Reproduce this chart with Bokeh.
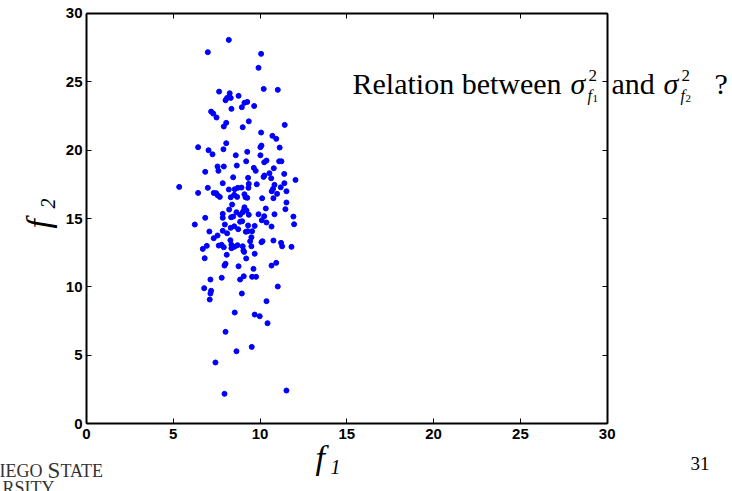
from bokeh.plotting import figure
from bokeh.models import Range1d, LinearAxis, FixedTicker, Label
from bokeh.embed import file_html
from bokeh.resources import INLINE

# ---- data ----
f1 = [8.20,6.99,10.06,9.91,7.64,10.21,11.02,8.25,8.10,8.31,
      8.01,8.76,9.10,9.26,9.66,8.35,8.95,7.18,7.30,7.49,
      8.05,7.91,9.35,9.00,11.42,10.06,10.71,10.93,6.43,8.05,
      7.03,7.26,7.89,8.60,9.26,10.02,10.08,10.02,11.13,9.20,
      10.24,10.37,11.10,11.23,6.84,7.55,7.91,7.60,8.66,9.64,
      9.75,10.79,10.54,10.25,10.20,11.39,8.45,9.31,10.64,12.04,
      5.34,6.43,6.99,7.85,8.20,8.54,8.72,8.93,9.35,9.33,
      9.81,10.83,10.75,10.67,11.40,11.19,11.52,7.33,7.47,7.55,
      7.68,8.31,8.51,8.68,9.10,9.16,9.26,10.12,10.98,10.77,
      11.52,8.39,8.22,9.10,9.08,9.22,10.33,11.46,6.84,6.24,
      7.85,7.85,8.33,8.45,8.64,8.85,9.00,9.35,9.91,10.10,
      10.24,10.37,10.83,10.66,11.92,11.96,7.97,8.31,8.51,8.74,
      8.85,8.97,9.31,9.29,9.18,9.69,9.54,7.08,7.55,7.33,
      7.85,8.10,8.29,9.50,9.43,10.14,10.08,10.77,11.21,11.27,
      11.81,6.93,6.70,7.62,7.78,7.91,8.35,8.35,8.52,8.70,
      9.00,9.04,9.08,9.50,8.08,9.69,6.81,9.20,8.01,7.95,
      8.76,9.62,10.66,10.93,7.14,7.79,8.85,9.06,9.54,9.77,
      6.78,7.18,7.14,7.10,8.95,11.02,10.37,8.54,9.69,9.98,
      10.43,8.01,9.52,8.64,7.43,7.95,11.52]
f2 = [28.05,27.15,27.03,26.01,24.27,24.47,24.40,24.15,23.81,23.81,
      23.64,23.96,23.45,23.52,23.22,23.01,23.13,22.81,22.67,22.38,
      21.99,21.72,22.10,21.67,21.84,21.28,21.04,20.82,20.21,20.50,
      19.99,19.69,20.06,19.62,19.87,20.21,20.33,19.62,20.18,19.18,
      19.11,19.23,19.18,19.18,18.41,18.80,18.80,18.48,18.87,18.70,
      18.48,18.67,18.31,18.14,18.04,18.26,18.01,17.97,17.94,17.82,
      17.31,16.87,17.24,17.58,17.12,17.14,17.24,17.26,17.53,17.24,
      17.50,17.46,17.17,16.99,17.58,17.28,16.99,16.87,16.85,16.70,
      16.58,16.55,16.73,16.58,16.77,16.55,16.51,16.48,16.80,16.48,
      16.17,16.02,15.65,15.82,15.63,15.58,15.73,15.68,15.05,14.56,
      15.34,15.05,15.09,15.14,15.46,15.27,15.46,15.27,15.31,14.87,
      15.17,14.71,15.31,14.41,15.14,14.58,14.56,14.32,14.43,14.22,
      14.76,14.80,14.49,14.07,14.03,14.46,14.07,14.05,13.76,13.56,
      14.10,13.92,13.41,13.63,13.34,13.34,13.27,13.39,13.22,12.97,
      12.93,13.00,12.78,13.02,13.08,12.90,13.08,12.83,12.93,13.05,
      12.97,12.66,12.56,12.97,12.35,12.42,12.10,12.08,11.69,11.56,
      11.51,11.32,11.56,11.76,10.54,10.67,10.54,10.78,10.74,10.74,
      9.91,9.72,9.52,9.08,9.52,10.03,8.96,8.13,7.98,7.86,
      7.35,6.72,5.62,5.30,4.48,2.19,2.43]
ticks = [0, 5, 10, 15, 20, 25, 30]
lo, hi = 0, 30

# ---- layout: plotting box placed inside a frame that fills the figure ----
W, H = 732, 491
box_l, box_r, box_t, box_b = 86.0, 606.7, 12.7, 423.3
sx = (hi - lo) / (box_r - box_l)
sy = (hi - lo) / (box_b - box_t)
x_range = Range1d(lo - box_l * sx, lo + (W - box_l) * sx)
y_range = Range1d(lo - (H - box_b) * sy, lo + box_b * sy)

p = figure(width=W, height=H, x_range=x_range, y_range=y_range,
           output_backend="svg", toolbar_location=None, min_border=0)
p.grid.visible = False
p.outline_line_color = None
p.background_fill_color = "white"
p.border_fill_color = "white"
p.xaxis.visible = False
p.yaxis.visible = False

empty = {t: "" for t in ticks}

def make_axis(side, loc, labels):
    a = LinearAxis(ticker=FixedTicker(ticks=ticks), fixed_location=loc, bounds=(lo, hi),
                   axis_line_width=2, axis_line_color="black",
                   major_tick_in=5, major_tick_out=0, major_tick_line_width=1,
                   minor_tick_line_color=None,
                   major_label_text_font="Liberation Sans", major_label_text_font_style="bold",
                   major_label_text_font_size="15px", major_label_text_color="black")
    if not labels:
        a.major_label_overrides = empty
    p.add_layout(a, side)
    return a

ax_b = make_axis("below", lo, True)
ax_b.major_label_standoff = 5
ax_l = make_axis("left", lo, True)
ax_l.major_label_standoff = 4
make_axis("above", hi, False)
make_axis("right", hi, False)

p.scatter(f1, f2, size=5, color="#0000ff")

serif = "Liberation Serif"

def lab(text, px, py, size, style="normal", xo=0, yo=0, angle=0, color="black"):
    # px, py: page pixels from top-left
    p.add_layout(Label(x=px, y=H - py, x_units="screen", y_units="screen", x_offset=xo, y_offset=yo,
                       text=text, text_font=serif, text_font_size=size, text_font_style=style,
                       text_color=color, angle=angle, text_align="left", text_baseline="alphabetic"))

# remark
tx, ty = 352, 83
lab("Relation between", tx, ty, "30px")
lab("σ", tx, ty, "30px", "italic", xo=218)
lab("2", tx, ty, "17px", xo=236, yo=8)
lab("f", tx, ty, "16px", "italic", xo=235, yo=-12)
lab("1", tx, ty, "11px", xo=240, yo=-15)
lab("and", tx, ty, "30px", xo=259)
lab("σ", tx, ty, "30px", "italic", xo=311)
lab("2", tx, ty, "17px", xo=329, yo=8)
lab("f", tx, ty, "16px", "italic", xo=328, yo=-12)
lab("2", tx, ty, "11px", xo=333, yo=-15)
lab("?", tx, ty, "30px", xo=362)

# axis titles
lab("f", 315, 457, "34px", "italic")
lab("1", 315, 457, "20px", "italic", xo=15, yo=-9)
lab("f", 38, 228, "34px", "italic", angle=1.5708)
lab("2", 38, 228, "20px", "italic", xo=9, yo=20, angle=1.5708)

# page number and logo fragment
lab("31", 690, 463, "19px")
lab("IEGO", -1, 470, "18px", color="#333333")
lab("S", 47, 470, "23px", color="#333333")
lab("TATE", 60, 470, "18px", color="#333333")
lab("RSITY", 2, 487, "18px", color="#333333")

open("out.html", "w").write(file_html(p, INLINE))
